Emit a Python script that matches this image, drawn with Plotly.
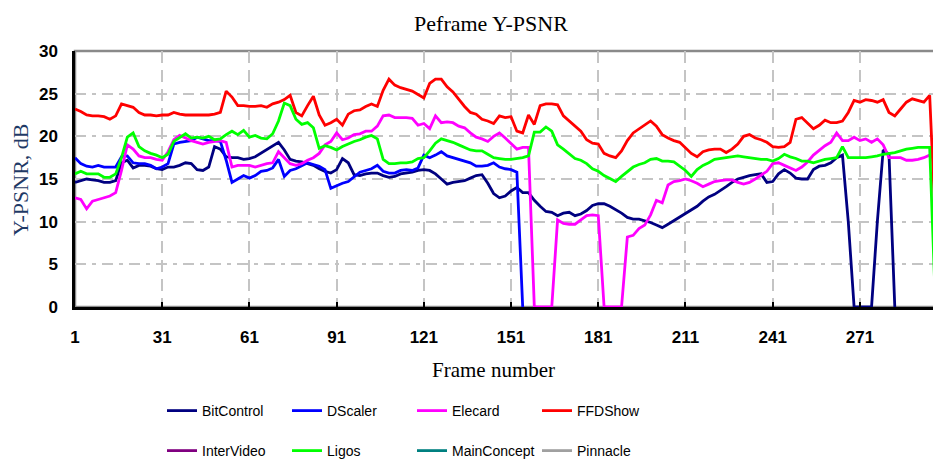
import plotly.graph_objects as go

# ---------------- data ----------------
frames = list(range(1, 300, 2))          # frame numbers (every 2nd frame sampled)
x_tick_vals = [1, 31, 61, 91, 121, 151, 181, 211, 241, 271]
x_tick_text = ["1", "31", "61", "91", "121", "151", "181", "211", "241", "271"]
y_tick_vals = [0, 5, 10, 15, 20, 25, 30]

bitcontrol = [
    14.6, 14.8, 15.0, 14.9, 14.8, 14.6, 14.6, 14.8, 16.9, 17.2,
    16.3, 16.6, 16.6, 16.5, 16.2, 16.1, 16.4, 16.4, 16.6, 16.9,
    16.8, 16.1, 16.0, 16.4, 18.8, 18.5, 17.6, 17.5, 17.5, 17.3,
    17.4, 17.6, 18.0, 18.4, 18.8, 19.3, 18.4, 17.3, 17.1, 17.0,
    16.8, 16.6, 16.2, 15.9, 15.7, 16.1, 17.4, 16.9, 15.5, 15.4,
    15.6, 15.7, 15.7, 15.4, 15.2, 15.3, 15.6, 15.7, 15.8, 16.0,
    16.1, 16.0, 15.6, 15.0, 14.4, 14.6, 14.7, 14.8, 15.1, 15.4,
    15.5, 14.5, 13.3, 12.8, 13.0, 13.6, 14.0, 13.4, 13.4, 12.5,
    11.8, 11.2, 11.1, 10.7, 11.0, 11.1, 10.7, 10.9, 11.3, 11.9,
    12.1, 12.1, 11.8, 11.4, 11.0, 10.5, 10.3, 10.3, 10.1, 9.9,
    9.6, 9.3, 9.7, 10.1, 10.6, 11.0, 11.3, 11.8, 12.4, 12.9,
    13.2, 13.6, 14.1, 14.6, 15.0, 15.2, 15.4, 15.5, 15.6, 14.6,
    14.7, 15.6, 16.1, 15.7, 15.1, 15.0, 15.0, 16.1, 16.5, 16.6,
    16.9, 17.5, 17.8, 10.0, 0.0, 0.0, 0.0, 0.0, 10.0, 18.4,
    17.9, 0.0,
]

dscaler = [
    17.5, 16.8, 16.5, 16.4, 16.6, 16.4, 16.4, 16.4, 17.6, 17.7,
    16.9, 16.8, 16.8, 16.6, 16.2, 16.4, 16.8, 19.1, 19.3, 19.4,
    19.5, 19.9, 19.7, 19.5, 19.5, 19.4, 17.2, 14.6, 15.0, 15.4,
    15.1, 15.4, 15.9, 16.0, 16.3, 17.3, 15.3, 16.0, 16.2, 16.6,
    16.9, 16.7, 16.5, 16.1, 13.9, 14.2, 14.5, 14.7, 15.3, 15.8,
    16.0, 16.2, 16.6, 15.9, 15.7, 15.7, 16.0, 16.1, 16.0, 16.3,
    17.8, 17.5, 17.8, 18.2, 17.7, 17.5, 17.3, 17.1, 16.9, 16.5,
    16.5, 16.6, 16.9, 16.4, 16.2, 16.1, 15.8, 0.0,
]

elecard = [
    12.8, 12.6, 11.5, 12.4, 12.6, 12.8, 13.0, 13.4, 16.0, 19.0,
    18.5, 17.7, 17.5, 17.5, 17.3, 17.2, 18.2, 19.6, 20.1, 19.8,
    19.5, 19.3, 19.1, 19.3, 19.4, 19.5, 19.3, 16.4, 16.6, 16.6,
    16.6, 16.4, 16.6, 16.8, 16.9, 18.2, 17.5, 16.8, 16.6, 16.8,
    17.2, 17.5, 18.0, 19.0, 19.4, 20.4, 19.6, 19.8, 20.2, 20.3,
    20.6, 20.6, 21.2, 22.4, 22.5, 22.2, 22.2, 22.2, 22.1, 21.3,
    21.5, 20.9, 22.4, 21.6, 21.7, 21.6, 21.2, 21.0, 20.4, 19.9,
    19.7, 19.4, 20.0, 20.4, 19.8, 19.1, 18.5, 18.7, 18.7, 0.0,
    0.0, 0.0, 0.0, 10.2, 9.8, 9.7, 9.7, 10.2, 10.7, 10.8,
    10.7, 0.0, 0.0, 0.0, 0.0, 8.2, 8.4, 9.2, 9.6, 10.8,
    12.5, 12.2, 14.3, 14.7, 14.8, 15.0, 14.8, 14.5, 14.1, 14.4,
    14.7, 14.8, 14.9, 14.9, 14.6, 14.4, 14.6, 15.0, 15.4, 15.9,
    16.8, 16.9, 16.6, 16.3, 16.0, 16.4, 17.0, 17.8, 18.4, 18.9,
    19.3, 20.4, 19.5, 19.5, 19.9, 19.5, 19.7, 19.3, 19.7, 19.0,
    17.5, 17.5, 17.5, 17.2, 17.2, 17.3, 17.5, 17.8, 18.4, 18.5,
]

ffdshow = [
    23.2, 22.9, 22.5, 22.4, 22.4, 22.3, 22.0, 22.4, 23.8, 23.6,
    23.4, 22.8, 22.5, 22.5, 22.4, 22.5, 22.5, 22.8, 22.6, 22.5,
    22.5, 22.5, 22.5, 22.5, 22.6, 22.8, 25.3, 24.6, 23.6, 23.6,
    23.5, 23.5, 23.6, 23.4, 23.8, 24.0, 24.3, 24.8, 22.8, 22.4,
    23.6, 24.7, 22.5, 21.3, 21.6, 22.0, 21.3, 22.6, 23.0, 23.1,
    23.5, 23.8, 23.5, 25.4, 26.7, 26.0, 25.7, 25.5, 25.3, 24.9,
    24.5, 26.2, 26.7, 26.7, 25.8, 25.2, 24.3, 23.5, 22.8, 22.6,
    22.0, 21.8, 21.5, 22.4, 22.2, 22.3, 20.6, 20.4, 22.5, 21.4,
    23.6, 23.8, 23.8, 23.7, 22.4, 21.8, 21.3, 20.6, 19.6, 19.2,
    19.1, 18.0, 17.7, 17.5, 18.3, 19.5, 20.4, 20.9, 21.4, 21.8,
    21.2, 20.2, 19.8, 19.5, 19.3, 18.7, 18.0, 17.6, 18.2, 18.4,
    18.5, 18.5, 18.1, 18.5, 19.1, 20.0, 20.2, 19.8, 19.6, 19.3,
    18.8, 18.7, 18.8, 19.3, 22.0, 22.2, 21.6, 20.9, 21.3, 21.9,
    21.6, 21.6, 21.8, 22.8, 24.2, 24.0, 24.3, 24.2, 24.0, 24.3,
    22.8, 22.4, 23.2, 24.0, 24.4, 24.2, 24.0, 24.8, 9.3,
]

intervideo = [None]
ligos = [
    15.6, 15.9, 15.6, 15.6, 15.6, 15.2, 15.2, 15.6, 17.5, 19.9,
    20.4, 18.8, 18.3, 18.0, 17.8, 17.5, 17.9, 19.4, 19.9, 20.3,
    19.8, 19.9, 19.8, 20.0, 19.6, 19.7, 20.2, 20.6, 20.2, 20.7,
    19.9, 20.1, 19.8, 19.7, 20.3, 21.8, 23.9, 23.6, 22.0, 21.4,
    21.6, 21.0, 18.6, 18.9, 18.7, 18.4, 18.8, 19.1, 19.4, 19.6,
    19.9, 20.1, 19.7, 17.3, 16.8, 16.8, 16.9, 16.9, 17.0, 17.4,
    17.5, 18.3, 19.2, 19.7, 19.5, 19.3, 19.0, 18.7, 18.4, 18.3,
    18.3, 17.9, 17.5, 17.4, 17.3, 17.3, 17.4, 17.5, 17.7, 20.5,
    20.5, 21.1, 20.6, 19.0, 18.5, 17.9, 17.4, 17.2, 16.8, 16.2,
    15.9, 15.4, 15.0, 14.7, 15.3, 15.9, 16.4, 16.7, 16.9, 17.3,
    17.4, 17.1, 17.1, 17.0, 16.5, 16.0, 15.3, 16.1, 16.6, 16.9,
    17.3, 17.4, 17.5, 17.6, 17.7, 17.6, 17.5, 17.4, 17.3, 17.3,
    17.1, 17.4, 17.9, 17.6, 17.4, 17.1, 17.1, 16.9, 17.1, 17.3,
    17.4, 17.5, 18.8, 17.5, 17.5, 17.5, 17.5, 17.6, 17.7, 17.9,
    18.0, 18.1, 18.3, 18.5, 18.6, 18.7, 18.7, 18.7, 0.0,
]
mainconcept = [None]
pinnacle = [None]

series_names = ["BitControl", "DScaler", "Elecard", "FFDShow",
                "InterVideo", "Ligos", "MainConcept", "Pinnacle"]
series_values = [bitcontrol, dscaler, elecard, ffdshow,
                 intervideo, ligos, mainconcept, pinnacle]
series_colors = ["#000080", "#0000FF", "#FF00FF", "#FF0000",
                 "#800080", "#00FF00", "#008080", "#A0A0A0"]

# ---------------- figure ----------------
# The page body adds an 8px margin, so the figure itself is 8px smaller
# on each axis and all positions are expressed in figure coordinates.
W, H = 933, 453
L, R, T, B = 67, 1, 43, 154
PW, PH = W - L - R, H - T - B

fig = go.Figure()
for i, (name, vals, color) in enumerate(zip(series_names, series_values, series_colors)):
    fig.add_trace(go.Scatter(
        x=frames[:len(vals)], y=vals, mode="lines", name=name,
        line=dict(color=color, width=2.8),
        legend="legend" if i < 4 else "legend2",
        hoverinfo="skip",
    ))

tick_font = dict(family="Arial, Liberation Sans, sans-serif", size=17, color="black", weight="bold")
serif = "Times New Roman, Liberation Serif, serif"
legend_font = dict(family="Arial, Liberation Sans, sans-serif", size=14, color="black")

fig.update_layout(
    width=W, height=H,
    margin=dict(l=L, r=R, t=T, b=B, autoexpand=False),
    paper_bgcolor="white", plot_bgcolor="white",
    title=dict(text="Peframe Y-PSNR", x=483 / W, xanchor="center",
               y=1 - 15 / H, yanchor="middle",
               font=dict(family=serif, size=22, color="black")),
    xaxis=dict(
        range=[1, 298.55], tickmode="array", tickvals=x_tick_vals, ticktext=x_tick_text,
        showgrid=True, gridcolor="#c4c4c4", gridwidth=1.5, griddash="12px,7px",
        showline=True, linecolor="black", linewidth=2.5,
        ticks="inside", ticklen=5, tickwidth=1.5, tickcolor="black",
        tickfont=tick_font, ticklabelstandoff=13, zeroline=False,
    ),
    yaxis=dict(
        range=[0, 30], tickmode="array", tickvals=y_tick_vals,
        showgrid=True, gridcolor="#c4c4c4", gridwidth=1.5, griddash="11px,6px,4px,6px",
        showline=True, linecolor="black", linewidth=2.5,
        ticks="", tickfont=tick_font, ticklabelstandoff=11, zeroline=False,
    ),
    annotations=[
        dict(text="Frame number", xref="paper", yref="paper",
             x=(485 - L) / PW, y=(T + PH - 362) / PH, xanchor="center", yanchor="middle",
             showarrow=False, font=dict(family=serif, size=21, color="black")),
        dict(text="Y-PSNR, dB", xref="paper", yref="paper",
             x=(12 - L) / PW, y=(T + PH - 172) / PH, xanchor="center", yanchor="middle",
             textangle=-90, showarrow=False,
             font=dict(family=serif, size=22, color="#1f3a66")),
    ],
    legend=dict(orientation="h", x=(154 - L) / PW, xanchor="left",
                y=(T + PH - 387) / PH, yanchor="top",
                entrywidth=80, entrywidthmode="pixels",
                font=legend_font, bgcolor="rgba(0,0,0,0)", itemwidth=30),
    legend2=dict(orientation="h", x=(154 - L) / PW, xanchor="left",
                 y=(T + PH - 427) / PH, yanchor="top",
                 entrywidth=80, entrywidthmode="pixels",
                 font=legend_font, bgcolor="rgba(0,0,0,0)", itemwidth=30),
    shapes=[dict(type="rect", xref="paper", yref="paper", x0=0, x1=1, y0=0, y1=1,
                 line=dict(color="#8a8a8a", width=2.5), layer="below")],
)

fig.write_html("out.html")
